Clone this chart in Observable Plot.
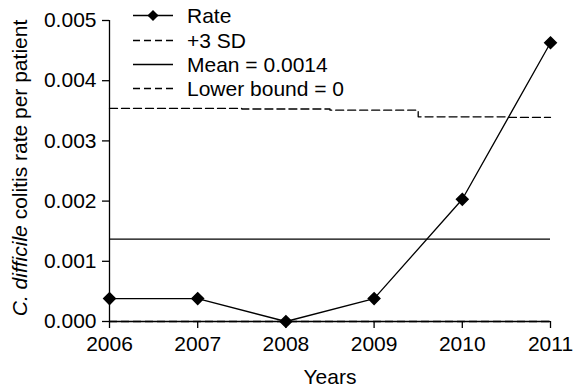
<!DOCTYPE html>
<html>
<head>
<meta charset="utf-8">
<script src="https://cdn.jsdelivr.net/npm/d3@7"></script>
<script src="https://cdn.jsdelivr.net/npm/@observablehq/plot@0.6"></script>
<style>
  html, body { margin: 0; padding: 0; background: #fff; }
</style>
</head>
<body>
<div id="chart"></div>
<script>
const years = [2006, 2007, 2008, 2009, 2010, 2011];
const rate = [0.00038, 0.00038, 0.0, 0.00038, 0.00203, 0.00463];
const ucl = [0.00354, 0.00354, 0.00353, 0.00351, 0.00340, 0.00339];
const meanValue = 0.00137;
const lowerBound = 0;
const yTicks = [0, 0.001, 0.002, 0.003, 0.004, 0.005];
const legendLabels = ["Rate", "+3 SD", "Mean = 0.0014", "Lower bound = 0"];

const rateData = years.map((y, i) => ({year: y, value: rate[i]}));
const uclData = years.map((y, i) => ({year: y, value: ucl[i]}));

const font = "'Liberation Sans', Arial, Helvetica, sans-serif";
const fs = 21;

const chart = Plot.plot({
  width: 574,
  height: 390,
  marginLeft: 109,
  marginRight: 24,
  marginTop: 20,
  marginBottom: 69,
  style: {fontFamily: font, fontSize: fs + "px", color: "#000", background: "#fff"},
  x: {domain: [2006, 2011]},
  y: {domain: [0, 0.005]},
  marks: [
    Plot.axisX({ticks: years, tickFormat: d => String(d), tickSize: 7, tickPadding: 8, label: null, strokeWidth: 1.3, fontSize: fs}),
    Plot.axisY({ticks: yTicks, tickFormat: d3.format(".3f"), tickSize: 7, tickPadding: 6, label: null, strokeWidth: 1.3, fontSize: fs}),
    Plot.ruleY([lowerBound], {stroke: "#000", strokeWidth: 1.3, strokeDasharray: "8,4"}),
    Plot.ruleY([0], {stroke: "#000", strokeWidth: 1.3}),
    Plot.ruleX([2006], {stroke: "#000", strokeWidth: 1.3}),
    Plot.ruleY([meanValue], {stroke: "#000", strokeWidth: 1.3}),
    Plot.line(uclData, {x: "year", y: "value", curve: "step", stroke: "#000", strokeWidth: 1.3, strokeDasharray: "8,4"}),
    Plot.line(rateData, {x: "year", y: "value", stroke: "#000", strokeWidth: 1.3}),
    Plot.dot(rateData, {x: "year", y: "value", symbol: "diamond2", r: 5.2, fill: "#000", stroke: "#000"})
  ]
});

document.getElementById("chart").appendChild(chart);

const svg = d3.select(chart);

// X axis title
svg.append("text")
  .attr("x", 330).attr("y", 384)
  .attr("text-anchor", "middle")
  .attr("font-family", font).attr("font-size", fs)
  .attr("fill", "#000")
  .text("Years");

// Y axis title with italic part
const yt = svg.append("text")
  .attr("transform", "translate(27,168) rotate(-90)")
  .attr("text-anchor", "middle")
  .attr("font-family", font).attr("font-size", fs)
  .attr("fill", "#000");
yt.append("tspan").attr("font-style", "italic").text("C. difficile");
yt.append("tspan").text(" colitis rate per patient");

// Legend
const lg = svg.append("g");
const rowY = [15.5, 40.5, 64.5, 88.5];
const styles = ["rate", "dash", "solid", "dash"];
legendLabels.forEach((lab, i) => {
  const y = rowY[i];
  const ln = lg.append("line")
    .attr("x1", 133).attr("x2", 173).attr("y1", y).attr("y2", y)
    .attr("stroke", "#000").attr("stroke-width", 1.3);
  if (styles[i] === "dash") ln.attr("stroke-dasharray", "7,4");
  if (styles[i] === "rate") {
    lg.append("path")
      .attr("d", d3.symbol(d3.symbolDiamond2, Math.PI * 25)())
      .attr("transform", `translate(153,${y})`)
      .attr("fill", "#000");
  }
  lg.append("text")
    .attr("x", 187).attr("y", y).attr("dy", "0.35em")
    .attr("text-anchor", "start")
    .attr("font-family", font).attr("font-size", fs)
    .attr("fill", "#000")
    .text(lab);
});
</script>
</body>
</html>
